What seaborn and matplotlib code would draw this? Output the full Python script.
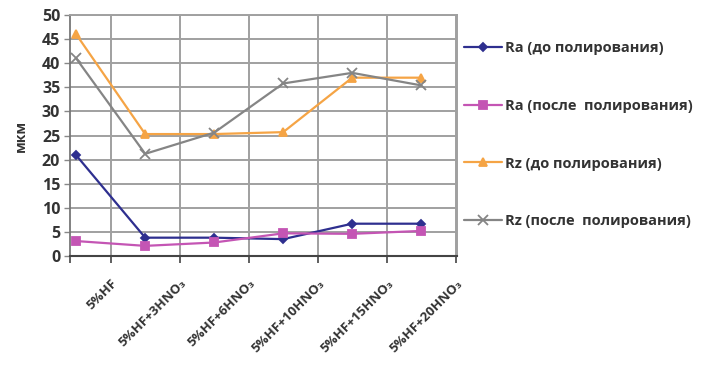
import numpy as np
import pandas as pd
import matplotlib.pyplot as plt
import matplotlib.transforms as mtransforms
import seaborn as sns

categories = ["5%HF", "5%HF+3HNO₃", "5%HF+6HNO₃", "5%HF+10HNO₃", "5%HF+15HNO₃", "5%HF+20HNO₃"]
ra_before = [20.9, 3.8, 3.8, 3.5, 6.7, 6.7]
ra_after = [3.1, 2.1, 2.8, 4.7, 4.6, 5.2]
rz_before = [46.0, 25.3, 25.3, 25.7, 37.0, 37.0]
rz_after = [41.0, 21.2, 25.6, 35.8, 38.0, 35.4]
series_names = ["Ra (до полирования)", "Ra (после  полирования)",
                "Rz (до полирования)", "Rz (после  полирования)"]

sns.set_style("white")
plt.rcParams["font.family"] = ["Open Sans", "DejaVu Sans"]

x = np.arange(len(categories))
df = pd.DataFrame({
    "x": np.tile(x, 4),
    "value": ra_before + ra_after + rz_before + rz_after,
    "series": np.repeat(series_names, len(categories)),
})

colors = ["#2e2f8f", "#c455b4", "#f5a445", "#858585"]
markers = ["D", "s", "^", "x"]
msizes = [4, 6, 6, 7]

fig = plt.figure(figsize=(7.09, 3.73), dpi=100)
ax = fig.add_axes([0.0987, 0.3137, 0.546, 0.646])

for name, c, m, ms in zip(series_names, colors, markers, msizes):
    sub = df[df["series"] == name]
    sns.lineplot(data=sub, x="x", y="value", ax=ax, color=c, marker=m,
                 markersize=ms, linewidth=1.6, label=name,
                 markeredgecolor=c, markeredgewidth=1.3)

ax.set_xlim(-0.09, 5.52)
ax.set_ylim(0, 50)
ax.set_yticks(np.arange(0, 51, 5))
gridpos = np.arange(len(categories)) + 0.5
ax.set_xticks(gridpos)
ax.set_xticklabels(categories, rotation=45, ha="right", rotation_mode="anchor",
                   fontsize=9.5, fontweight="bold", color="#333333")
shift = mtransforms.ScaledTranslation(6 / 100, -6 / 100, fig.dpi_scale_trans)
for t in ax.get_xticklabels():
    t.set_transform(t.get_transform() + shift)
ax.set_xticks([-0.09], minor=True)
ax.tick_params(axis="x", which="both", direction="out", length=5, width=1.2,
               color="#444444", bottom=True, pad=10)
ax.tick_params(axis="y", direction="out", length=4, width=1, color="#888888",
               left=True, labelsize=11.5, labelcolor="#333333", pad=3)
for t in ax.get_yticklabels():
    t.set_fontweight("bold")
ax.grid(True, color="#a0a0a0", linewidth=1.4)
ax.set_axisbelow(True)
for s in ["top", "right"]:
    ax.spines[s].set_color("#a0a0a0")
    ax.spines[s].set_linewidth(1.4)
ax.spines["left"].set_color("#777777")
ax.spines["bottom"].set_color("#444444")
ax.spines["left"].set_linewidth(1.3)
ax.spines["bottom"].set_linewidth(1.5)

ax.set_xlabel("")
ax.set_ylabel("мкм", fontsize=10, fontweight="bold", color="#333333", labelpad=10)

handles, labels = ax.get_legend_handles_labels()
ax.legend_.remove()
fig.legend(handles, labels, loc="upper left", bbox_to_anchor=(0.636, 0.925),
           frameon=False, labelspacing=3.0, handlelength=2.6, handletextpad=0.2,
           prop={"size": 10.5, "weight": "bold"}, labelcolor="#333333")

fig.savefig("out.png", dpi=100)
